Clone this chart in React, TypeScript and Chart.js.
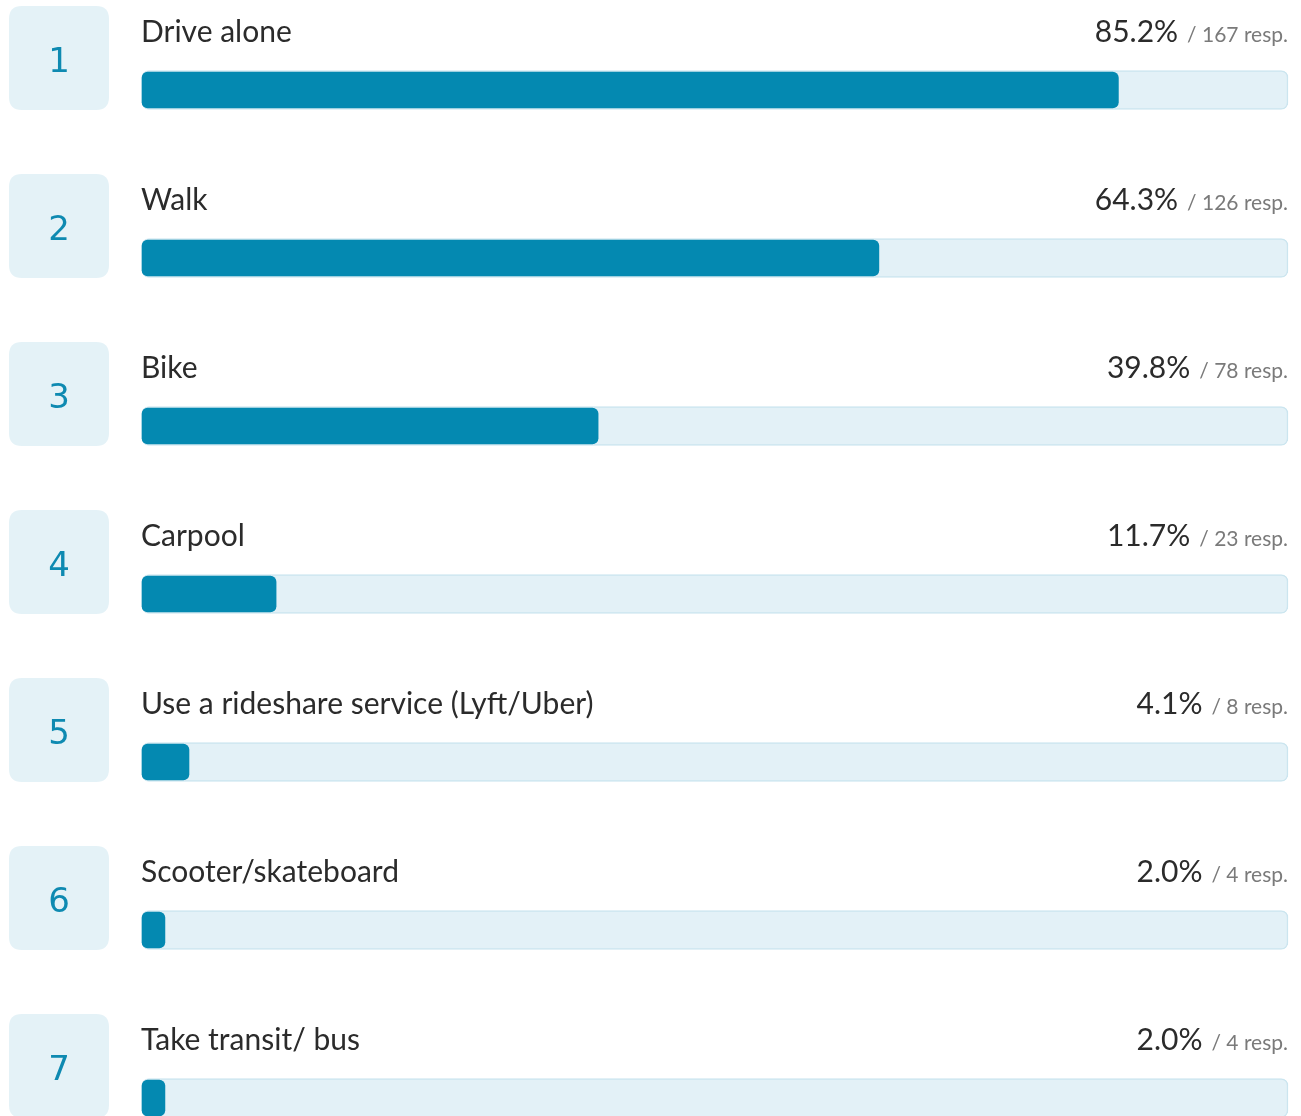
import React, { useEffect, useRef } from "react";
import { Chart, registerables } from "chart.js";

Chart.register(...registerables);

const categories = [
  "Drive alone",
  "Walk",
  "Bike",
  "Carpool",
  "Use a rideshare service (Lyft/Uber)",
  "Scooter/skateboard",
  "Take transit/ bus",
];
const percents = [85.2, 64.3, 39.8, 11.7, 4.1, 2.0, 2.0];
const responses = [167, 126, 78, 23, 8, 4, 4];
const ranks = ["1", "2", "3", "4", "5", "6", "7"];
const trackValues = [100, 100, 100, 100, 100, 100, 100];

const W = 1301;
const H = 1116;

function roundRect(ctx: CanvasRenderingContext2D, x: number, y: number, w: number, h: number, r: number) {
  ctx.beginPath();
  ctx.moveTo(x + r, y);
  ctx.lineTo(x + w - r, y);
  ctx.quadraticCurveTo(x + w, y, x + w, y + r);
  ctx.lineTo(x + w, y + h - r);
  ctx.quadraticCurveTo(x + w, y + h, x + w - r, y + h);
  ctx.lineTo(x + r, y + h);
  ctx.quadraticCurveTo(x, y + h, x, y + h - r);
  ctx.lineTo(x, y + r);
  ctx.quadraticCurveTo(x, y, x + r, y);
  ctx.closePath();
}

const labelsPlugin = {
  id: "rankLabels",
  afterDraw(chart: any) {
    const ctx: CanvasRenderingContext2D = chart.ctx;
    const y = chart.scales.y;
    const x = chart.scales.x;
    const left = x.getPixelForValue(0);
    const right = x.getPixelForValue(100);
    ctx.save();
    categories.forEach((cat, i) => {
      const cy = y.getPixelForValue(i);
      // rank box
      const boxCy = cy - 32;
      ctx.fillStyle = "#e4f2f7";
      roundRect(ctx, 9, boxCy - 52, 100, 104, 13);
      ctx.fill();
      ctx.fillStyle = "#0e8ab1";
      ctx.font = "34px 'DejaVu Sans'";
      ctx.textAlign = "center";
      ctx.textBaseline = "alphabetic";
      ctx.fillText(ranks[i], 59, boxCy + 14);

      const baseline = cy - 48.5;
      ctx.textBaseline = "alphabetic";
      ctx.textAlign = "left";
      ctx.fillStyle = "#2b2b2b";
      ctx.font = "30px Lato";
      ctx.fillText(cat, left - 1, baseline);

      ctx.textAlign = "right";
      ctx.fillStyle = "#7a7a7a";
      ctx.font = "21px Lato";
      const resp = "/ " + responses[i] + " resp.";
      ctx.fillText(resp, right, baseline);
      const rw = ctx.measureText(resp).width;
      ctx.fillStyle = "#2b2b2b";
      ctx.font = "30px Lato";
      ctx.fillText(percents[i].toFixed(1) + "%", right - rw - 9, baseline);
    });
    ctx.restore();
  },
};

export default function App() {
  const ref = useRef<HTMLCanvasElement | null>(null);
  useEffect(() => {
    if (!ref.current) return;
    const chart = new Chart(ref.current, {
      type: "bar",
      data: {
        labels: categories,
        datasets: [
          {
            data: percents,
            backgroundColor: "#0489b1",
            borderWidth: 0,
            borderRadius: 6,
            borderSkipped: false,
            barThickness: 36,
            grouped: false,
            order: 0,
            clip: false as any,
          },
          {
            data: trackValues,
            backgroundColor: "#e3f1f7",
            borderColor: "#cbe5ef",
            borderWidth: 1.5,
            borderRadius: 7,
            borderSkipped: false,
            barThickness: 39,
            grouped: false,
            order: 1,
            clip: false as any,
          },
        ],
      },
      options: {
        indexAxis: "y",
        responsive: false,
        animation: false,
        devicePixelRatio: 1,
        layout: { padding: { left: 142, right: 13, top: 90, bottom: 18 } },
        plugins: { legend: { display: false }, tooltip: { enabled: false } },
        scales: {
          x: { display: false, min: 0, max: 100 },
          y: { display: false, offset: false },
        },
      },
      plugins: [labelsPlugin],
    });
    return () => chart.destroy();
  }, []);
  return (
    <div style={{ position: "absolute", left: 0, top: 0, width: W, height: H, background: "#fff" }}>
      <canvas ref={ref} width={W} height={H} style={{ width: W, height: H, display: "block" }} />
    </div>
  );
}
